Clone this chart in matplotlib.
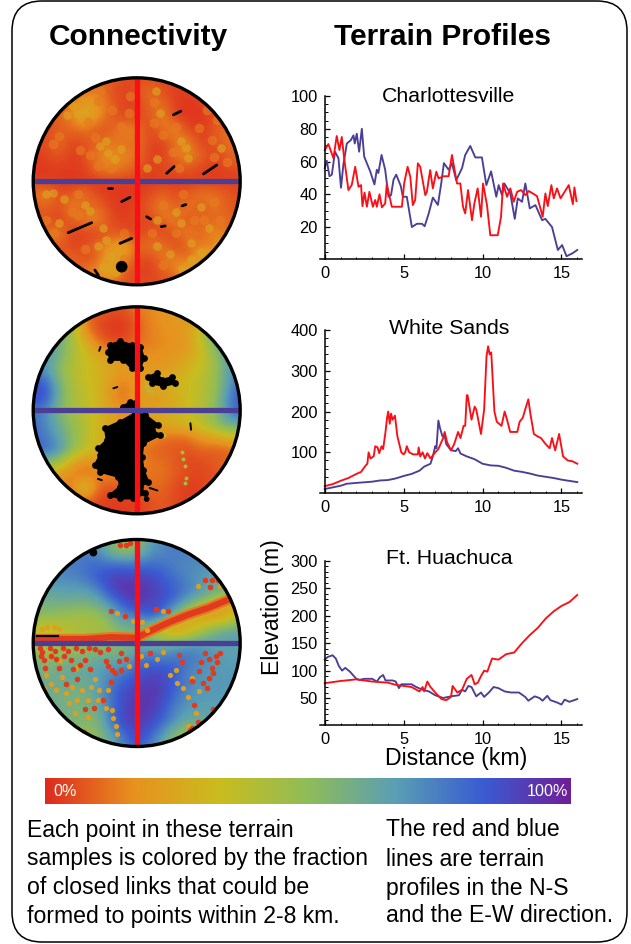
import numpy as np
import matplotlib
matplotlib.use("Agg")
import matplotlib.pyplot as plt
from matplotlib.colors import LinearSegmentedColormap
from matplotlib.patches import Circle, FancyBboxPatch, Polygon
from matplotlib.ticker import MultipleLocator

plt.rcParams["font.family"] = ["Liberation Sans", "DejaVu Sans"]

W, H = 631, 944

# -------------------------------
# TERRAIN PROFILES (km, m)
# -------------------------------

cville_red_x = [0, .23, .55, .76, .93, 1.08, 1.23, 1.5, 1.71, 1.93, 2.14, 2.3, 2.39, 2.52, 2.67, 2.83, 3.05, 3.2, 3.3, 3.47, 3.62, 3.83, 3.93, 4.25, 4.89, 5.03, 5.25, 5.42, 5.58, 5.73, 5.9, 6.05, 6.37, 6.47, 6.68, 6.85, 7.07, 7.21, 7.53, 7.85, 8.06, 8.38, 8.59, 8.76, 8.9, 9.08, 9.33, 9.48, 9.69, 9.9, 10.03, 10.28, 10.49, 10.96, 11.17, 11.3, 11.55, 11.76, 11.97, 12.19, 12.44, 12.71, 12.93, 13.45, 13.81, 13.98, 14.13, 14.36, 14.51, 14.72, 14.94, 15.46, 15.72, 15.82, 15.95]
cville_red_y = [67, 70.7, 62, 75.6, 67, 75, 62, 42.6, 45.6, 56.8, 44.6, 45.6, 32.8, 41, 32.4, 41.5, 32.4, 36.5, 32.4, 40, 32, 34.4, 46, 32.4, 32.4, 46.6, 56.8, 50.7, 33.4, 36.5, 58.9, 56.8, 39.5, 41.5, 54.8, 43.6, 53.8, 49.7, 51, 51, 64, 46.6, 46.6, 32.4, 28.3, 42.6, 24.2, 34.4, 43.6, 26.3, 46.6, 33.4, 15, 15, 26.3, 46.6, 38.5, 43.6, 35.4, 41.5, 42.6, 39.5, 42, 38.9, 26.3, 40.5, 32.8, 45.6, 37.5, 43.6, 37.5, 45.6, 34, 44.2, 35.8]
cville_blue_x = [0, .13, .3, .45, .65, .87, 1.03, 1.18, 1.4, 1.65, 1.82, 1.9, 2.03, 2.18, 2.35, 2.5, 2.88, 3.15, 3.3, 3.4, 3.6, 3.83, 4.04, 4.2, 4.36, 4.53, 4.82, 4.95, 5.2, 5.52, 5.84, 6.16, 6.33, 6.58, 6.85, 7.17, 7.38, 7.55, 7.85, 8.06, 8.33, 8.7, 8.9, 9.22, 9.54, 9.96, 10.24, 10.54, 10.87, 11.02, 11.23, 11.38, 11.76, 12.04, 12.23, 12.5, 12.71, 12.99, 13.35, 13.77, 13.98, 14.4, 14.77, 15.04, 15.32, 15.68, 16]
cville_blue_y = [56, 60.5, 51, 52, 66, 62, 44, 58, 71, 73, 76, 71, 77, 66, 80, 63, 54, 46, 55, 53, 64, 55, 38.5, 39.5, 49, 52, 45, 38.5, 38.5, 20, 22, 22, 20.5, 28, 38, 33.5, 46.6, 59, 55, 59, 48.6, 56, 64, 69.5, 62.5, 62.5, 45.6, 54, 38.5, 45.6, 39.5, 46.6, 40.5, 25, 37.5, 35.4, 46.6, 31.4, 33.4, 24.2, 25, 20, 6, 9, 2.2, 3.9, 6]

sands_red_x = [0, .5, 1, 1.5, 2, 2.3, 2.6, 2.7, 2.78, 2.9, 3.1, 3.2, 3.35, 3.45, 3.6, 3.7, 3.85, 3.95, 4.02, 4.12, 4.2, 4.3, 4.45, 4.6, 4.85, 5, 5.1, 5.2, 5.35, 5.6, 5.9, 5.95, 6.05, 6.2, 6.35, 6.5, 6.7, 7, 7.2, 7.5, 7.6, 7.75, 8, 8.2, 8.45, 8.6, 8.8, 8.9, 9, 9.05, 9.3, 9.5, 9.6, 9.9, 10.1, 10.25, 10.35, 10.45, 10.55, 10.75, 10.9, 11.2, 11.4, 11.55, 11.75, 12.2, 12.35, 12.55, 12.7, 12.9, 13.05, 13.25, 13.45, 13.7, 14, 14.25, 14.4, 14.6, 14.85, 15.1, 15.4, 15.7, 16]
sands_red_y = [17, 22, 30, 37, 47, 52, 68, 72, 100, 85, 90, 115, 112, 98, 115, 108, 150, 185, 200, 170, 195, 180, 190, 140, 100, 95, 100, 115, 100, 95, 95, 112, 90, 100, 85, 98, 85, 100, 108, 135, 150, 125, 105, 120, 150, 135, 165, 165, 240, 240, 180, 212, 205, 145, 205, 335, 360, 340, 345, 200, 175, 165, 200, 180, 150, 150, 175, 185, 205, 230, 190, 145, 140, 135, 120, 110, 135, 105, 145, 90, 80, 78, 72]
sands_blue_x = [0, .5, 1, 1.4, 2, 3, 3.5, 4, 4.5, 5, 5.5, 6, 6.3, 6.7, 6.85, 7, 7.08, 7.2, 7.3, 7.45, 7.6, 7.7, 8, 8.3, 8.45, 8.6, 9, 9.5, 10, 10.5, 11, 11.5, 12, 12.5, 13, 13.5, 14, 14.5, 15, 15.5, 16]
sands_blue_y = [10, 14, 18, 23, 25, 28, 31, 32, 36, 42, 47, 55, 65, 72, 90, 115, 110, 178, 160, 140, 140, 120, 105, 103, 110, 97, 90, 83, 72, 68, 67, 62, 55, 52, 48, 43, 40, 37, 33, 30, 27]

huach_red_x = [0, 1, 2, 3, 4, 4.5, 5, 5.5, 6, 6.2, 6.3, 6.5, 6.7, 7, 7.4, 7.7, 8, 8.1, 8.2, 8.4, 8.7, 9, 9.3, 9.5, 9.7, 9.9, 10.1, 10.3, 10.6, 11, 11.5, 12, 12.5, 13, 13.5, 14, 14.5, 15, 15.5, 16]
huach_red_y = [77, 81, 84, 80, 78, 74, 72, 70, 62, 70, 62, 80, 70, 60, 48, 46, 52, 72, 68, 60, 65, 85, 92, 75, 78, 90, 100, 98, 122, 120, 130, 133, 150, 165, 178, 195, 208, 218, 225, 238]
huach_blue_x = [0, .2, .5, .7, .9, 1.1, 1.3, 1.6, 2, 2.2, 2.5, 3, 3.3, 3.5, 3.7, 3.85, 4.3, 4.5, 4.7, 4.85, 5.2, 5.5, 5.8, 6.2, 6.6, 7, 7.5, 8, 8.5, 8.7, 8.9, 9.1, 9.3, 9.6, 9.9, 10.1, 10.4, 10.7, 11, 11.4, 11.8, 12.3, 12.7, 12.9, 13.3, 13.6, 13.8, 14.1, 14.3, 14.7, 15, 15.2, 15.5, 16]
huach_blue_y = [120, 125, 128, 122, 108, 100, 105, 98, 85, 83, 85, 85, 80, 88, 92, 82, 82, 80, 68, 75, 75, 75, 70, 65, 62, 55, 50, 53, 55, 65, 62, 72, 70, 53, 60, 52, 60, 70, 68, 62, 60, 60, 52, 45, 53, 50, 45, 54, 46, 42, 38, 47, 43, 48]

# -------------------------------
# CONNECTIVITY MAPS (percent, rows y=+8..-8 km, columns x=-8..+8 km)
# -------------------------------

cville_map = [
    [6, 6, 6, 6, 8, 8, 10, 5, 5, 6, 5, 6, 6, 8, 8, 8, 8],
    [6, 6, 6, 8, 10, 14, 6, 4, 6, 12, 6, 3, 4, 6, 8, 8, 8],
    [6, 6, 8, 14, 25, 18, 10, 4, 4, 10, 12, 3, 2, 3, 8, 8, 8],
    [6, 6, 10, 14, 28, 18, 8, 5, 6, 6, 16, 4, 2, 2, 5, 8, 8],
    [8, 4, 8, 10, 12, 6, 8, 16, 14, 4, 12, 16, 5, 3, 8, 12, 8],
    [8, 5, 12, 4, 6, 10, 14, 10, 12, 5, 3, 12, 16, 3, 6, 12, 10],
    [3, 4, 8, 3, 5, 14, 16, 16, 12, 4, 3, 12, 16, 10, 4, 8, 12],
    [2, 3, 3, 3, 4, 12, 16, 12, 8, 3, 6, 5, 8, 4, 3, 5, 6],
    [3, 3, 3, 2, 2, 2, 3, 3, 3, 3, 3, 3, 3, 3, 3, 3, 3],
    [12, 16, 6, 8, 14, 4, 3, 2, 3, 5, 10, 6, 8, 14, 12, 8, 6],
    [6, 10, 5, 16, 8, 12, 4, 2, 5, 8, 16, 8, 14, 6, 14, 8, 6],
    [5, 6, 4, 8, 14, 16, 6, 3, 6, 3, 10, 16, 5, 12, 8, 12, 6],
    [6, 12, 16, 3, 4, 3, 8, 6, 3, 8, 4, 6, 16, 8, 18, 12, 6],
    [6, 6, 8, 4, 6, 12, 18, 25, 10, 12, 14, 5, 10, 14, 12, 22, 6],
    [6, 6, 6, 12, 5, 8, 25, 18, 6, 4, 12, 16, 8, 28, 25, 10, 6],
    [6, 6, 6, 6, 14, 18, 30, 8, 4, 3, 8, 12, 32, 18, 6, 6, 6],
    [6, 6, 6, 6, 6, 6, 6, 6, 6, 6, 6, 6, 6, 6, 6, 6, 6],
]
sands_map = [
    [20, 20, 20, 20, 12, 10, 8, 6, 15, 15, 18, 20, 20, 25, 40, 60, 60],
    [60, 60, 60, 50, 12, 6, 3, 3, 8, 15, 18, 20, 22, 8, 70, 70, 70],
    [70, 70, 60, 45, 18, 6, 3, 3, 8, 14, 16, 18, 22, 40, 65, 75, 75],
    [70, 70, 60, 45, 30, 16, 8, 6, 12, 14, 16, 18, 20, 30, 55, 70, 75],
    [72, 68, 58, 42, 34, 28, 22, 20, 20, 18, 18, 20, 25, 32, 45, 64, 72],
    [75, 70, 52, 40, 34, 30, 24, 20, 20, 20, 22, 24, 30, 36, 46, 64, 75],
    [88, 84, 60, 42, 36, 30, 20, 12, 20, 24, 28, 30, 34, 38, 46, 65, 82],
    [88, 86, 60, 44, 38, 30, 20, 10, 22, 20, 20, 26, 32, 38, 48, 70, 86],
    [78, 72, 55, 44, 38, 30, 24, 16, 20, 22, 24, 28, 34, 40, 50, 70, 84],
    [80, 72, 60, 50, 40, 30, 24, 20, 18, 22, 26, 30, 32, 38, 50, 62, 66],
    [80, 76, 65, 52, 40, 30, 24, 20, 18, 18, 12, 10, 12, 20, 24, 30, 35],
    [82, 80, 72, 52, 38, 30, 24, 20, 15, 10, 8, 8, 6, 10, 8, 8, 12],
    [60, 55, 45, 22, 14, 18, 20, 20, 18, 12, 12, 8, 5, 5, 8, 10, 14],
    [40, 26, 18, 14, 12, 14, 14, 14, 12, 12, 12, 8, 5, 5, 5, 10, 18],
    [26, 16, 14, 12, 40, 10, 6, 8, 10, 10, 10, 5, 3, 3, 10, 16, 18],
    [16, 14, 12, 10, 8, 4, 3, 3, 3, 6, 8, 5, 3, 5, 10, 14, 18],
    [12, 12, 12, 12, 8, 4, 3, 3, 3, 6, 8, 6, 5, 8, 10, 14, 14],
]
huach_map = [
    [72, 72, 72, 72, 70, 66, 55, 45, 45, 66, 72, 76, 76, 76, 76, 76, 76],
    [72, 72, 72, 74, 76, 72, 58, 50, 55, 68, 72, 76, 74, 72, 72, 72, 72],
    [70, 72, 74, 76, 78, 80, 80, 80, 78, 80, 78, 74, 72, 72, 72, 72, 72],
    [68, 70, 72, 72, 76, 84, 90, 92, 90, 90, 84, 78, 72, 68, 62, 60, 66],
    [62, 64, 66, 66, 66, 72, 88, 94, 96, 92, 88, 82, 76, 68, 62, 58, 60],
    [58, 58, 58, 58, 56, 60, 70, 84, 92, 90, 86, 76, 60, 48, 35, 24, 20],
    [52, 50, 48, 45, 44, 46, 56, 72, 72, 84, 76, 50, 30, 18, 14, 22, 40],
    [36, 28, 34, 40, 42, 42, 48, 55, 55, 45, 20, 12, 22, 40, 55, 62, 64],
    [40, 36, 40, 44, 46, 48, 50, 55, 55, 58, 58, 60, 64, 66, 66, 66, 66],
    [55, 50, 52, 55, 55, 60, 58, 58, 72, 76, 72, 76, 78, 74, 68, 66, 66],
    [62, 55, 60, 62, 62, 66, 70, 72, 80, 86, 86, 82, 74, 70, 68, 68, 68],
    [62, 60, 62, 62, 60, 66, 74, 82, 88, 92, 90, 82, 74, 68, 68, 68, 68],
    [62, 60, 58, 56, 58, 66, 78, 88, 92, 94, 90, 80, 70, 68, 68, 68, 68],
    [60, 60, 60, 56, 56, 60, 76, 88, 94, 94, 86, 74, 68, 66, 66, 66, 66],
    [60, 60, 60, 55, 55, 55, 78, 90, 92, 90, 82, 70, 62, 62, 66, 66, 66],
    [60, 60, 60, 55, 48, 52, 66, 80, 90, 84, 70, 55, 46, 48, 60, 66, 66],
    [60, 60, 60, 55, 48, 48, 60, 74, 84, 76, 60, 46, 42, 48, 60, 66, 66],
]

# yellow and orange mottling on the Charlottesville map (km)
cville_yellow_dots = [(-4.9, 5.8), (-4.5, 5.2), (-5.4, 5.1), (-2.4, 3.1), (-2.8, 2.7), (-2.2, 2.2), (-1.7, 1.7), (-1.2, 2.5), (1.6, 1.7), (.8, 1), (1.5, 7), (1.8, 5.3), (3.4, 3.1), (3.8, 2.6), (4, 1.8), (6.5, 2.6), (-7, -1), (-6.5, -.9), (-5.6, -1.4), (-4, -1.8), (-3.6, -2.3), (-6, -3.2), (-2.6, -3.6), (-2.4, -4.5), (-3, -5), (-2, -5.8), (-2.6, -6.6), (-1.6, -7), (1.6, -3), (3, -2.4), (3.4, -3.2), (5, -2), (5.6, -3.6), (4.2, -4.8), (5, -5.5), (4.2, -6), (5.2, -6.2), (6.2, -5), (2.6, -5.6), (3.5, -6.8), (1.6, -5)]
cville_orange_dots = [(-3.8, 4.6), (-6, 3.5), (-6.5, 2.9), (-3.2, 3.4), (-3.6, 2), (-4.4, 2.4), (-3, 1.2), (-2, 1), (-.7, 3.6), (-1.2, 4.3), (-.6, 5.3), (-1.9, 5.5), (-3, 6.2), (-2.8, 7), (-3.5, 7.2), (-.5, 6.6), (1.3, 6.1), (1.3, 4.5), (2, 3.6), (3, 4.2), (2.8, 2.3), (3.3, 1), (4.8, 4.1), (5.8, 3.2), (6, 1.9), (7, 1.5), (6.2, 4.7), (5.4, 5.5), (-4.5, -1), (-4.5, -2.6), (-5, -2.4), (-7, -3), (-6.4, -4), (-1, -4), (-4, -5.2), (-1, -6), (1.2, -4), (2, -1.8), (3.6, -1), (4.4, -3), (6, -1.6), (6.4, -3), (2, -6.5), (3, -4), (5.2, -3)]

# black blobs on the maps (km)
sands_blob_a = [(-2.06, 5.06), (-1.29, 5.32), (-.39, 5.06), (.26, 4.93), (.57, 4.03), (.26, 3.25), (-.39, 3.25), (-1.03, 3.9), (-2.06, 3.9), (-2.19, 4.54)]
sands_blob_b = [(.9, 2.6), (1.55, 2.86), (1.94, 2.35), (2.71, 2.55), (2.97, 2.09), (2.06, 1.88), (1.16, 2.09)]
sands_blob_c = [(-1.03, .28), (-.52, .67), (-.13, .54), (-.13, .15), (-1.03, .15)]
sands_blob_d = [(-.13, -.23), (.65, -.36), (1.68, -1.14), (1.16, -1.52), (1.81, -1.91), (.52, -2.55), (.39, -3.59), (.52, -4.62), (.9, -5.52), (.26, -5.91), (.65, -6.43), (-.26, -6.81), (-1.29, -6.81), (-2.06, -6.55), (-1.29, -5.91), (-1.42, -5.14), (-2.84, -4.75), (-3.23, -4.23), (-2.84, -3.46), (-2.97, -2.94), (-2.32, -2.3), (-2.45, -1.39), (-1.29, -.88)]
sands_blobs = [sands_blob_a, sands_blob_b, sands_blob_c, sands_blob_d]
sands_strokes = [
    [(-2.9, 4.6), (-2.8, 4.9)],
    [(-1.8, 1.7), (-1.5, 1.8)],
    [(4.15, -1), (4.2, -1.5)],
    [(-3, -5.3), (-2.7, -5.4)],
    [(1, -6), (1.6, -6.2)],
    [(-2, -6.7), (-1, -6.5)],
]
sands_green_dots = [(.7, 1.9), (.9, 1.6), (1.3, -1.8), (2.1, -1.9), (3.5, -3.2), (3.6, -3.8), (3.7, -4.3), (3.8, -5.2), (3.7, -5.6), (1.2, 1.4)]
sands_spot = (.77, -6.86)

cville_strokes = [
    [(-5.29, -3.97), (-3.48, -3.2)],
    [(-1.16, -1.57), (-.52, -1.24)],
    [(2.32, .62), (2.89, 1.14)],
    [(5.16, .57), (6.19, 1.26)],
    [(2.84, 5.14), (3.41, 5.42)],
    [(-3.23, -6.86), (-2.97, -7.25)],
    [(-1.29, -4.8), (-.39, -4.41)],
    [(.77, -2.74), (1.08, -2.92)],
    [(1.9, -3.5), (2.2, -3.45)],
    [(3.5, -1.9), (3.8, -1.8)],
    [(-2.2, -.5), (-1.9, -.5)],
]
cville_spot = (-1.16, -6.6)
huach_stroke = [(-7.74, .57), (-6.06, .57)]
huach_spot = (-3.35, 6.99)

# red and orange ridge on the Huachuca map (km)
ridge_x = [-8, -6, -4, -2, 0, 1, 2.5, 4, 5.5, 7.2]
ridge_y = [.3, .3, .3, .45, .4, .9, 1.6, 2.2, 2.7, 3.4]

huach_red_dots = [(-7.3, -.7), (-7.2, -1.3), (-7.1, -1.9), (-6.3, -.6), (-6.2, -1.2), (-6, -1.9), (-5.3, -.6), (-5.1, -1.3), (-4.9, -2), (-4.6, -2.8), (-4.2, -.6), (-4, -1.3), (-3.6, -2), (-2.8, -.7), (-2.4, -1.4), (-1.9, -2.1), (-1.4, -1.4), (-1.7, -2.3), (-2, -3), (-2.6, -4.4), (-3.3, -5), (-4, -5.1), (-4.1, -6.9), (1, -.8), (3.3, -.9), (3.5, -1.5), (5.3, -.8), (5, -1.5), (4.8, -2.2), (6.4, -.8), (6.2, -1.5), (5.9, -2.3), (5.6, -2.7), (5.4, -3.5), (4.3, -2.9), (4.4, -4.8), (4.7, -6.1), (5.9, -5.1), (5.8, -5.5), (4.1, -6.7), (4.3, -6.6), (5.3, 4.9), (5.8, 4.9), (6.3, 4.9), (5.7, 4.3), (-2, 2.5), (-.9, 2.1), (1.5, 2.6), (2.4, 2.5), (-1.3, 7.6), (-.8, 7.6), (-.5, 7.7), (-7.5, -.4), (-6.7, -.4), (-5.7, -.4), (-4.7, -.4), (-3.7, -.4), (-3.2, -.5), (-2.2, -.5), (-1.2, -.8), (-7.4, -1), (-6.6, -1), (-5.6, -1), (-4.4, -1.7), (-2.2, -1.8), (-1.2, -2.1), (5.6, -1.2), (5.8, -1.9), (6.1, -1), (5.1, -3.1), (-5.5, -3.2), (-.8, -1.2)]
huach_yellow_dots = [(-7, -2.5), (-5.8, -2.6), (-5.5, -3.9), (-4.2, -3.6), (-3.8, -4.4), (-3.2, -2.8), (-2.9, -3.6), (-2.2, -3.6), (1.6, -1.2), (2, -.7), (.7, -1.7), (3, -2.1), (2.6, -2.5), (4.3, -2.7), (4.8, -3.7), (4, -4.2), (4.6, -5.4), (4, -6.4), (4.7, 4.4), (6.4, 4.4), (-1.5, 2.3), (-.3, 1.7), (.4, 1.6), (.8, 1), (2, 2.5), (-7.3, 1.1), (-6.9, 1.2), (-6.4, 1.2), (-6, 1.1), (-1.6, -6.4), (-1.9, -5.2), (-4.6, -4.4), (-5.2, -4.6), (-6.6, -3.2), (-6.2, -3.6), (-5, -3.4), (-4.7, -1.9), (-3.5, -3.4), (-3, -4.4), (-2.4, -5), (-1.8, -5.8), (-1.5, -7), (-4.8, -5.4), (-3.8, -5.7), (-.6, -1.8), (.3, -1), (-7.2, -3.5), (-6.8, -.9), (-5.9, -1.4), (3.1, -3.1), (3.6, -3.5)]

# -------------------------------
# COLOURS
# -------------------------------

red_line = "#fb0f16"
blue_line = "#4a3f94"
scale_colors = ["#de2a1e", "#e8911f", "#c9bd1f", "#90bc58", "#5a9fb4", "#3a5cd2", "#6f1f98"]
conn_cmap = LinearSegmentedColormap.from_list("connectivity", scale_colors)


def box(ax_left, ax_top, ax_right, ax_bottom):
    # pixel box of the picture -> figure fractions
    return [ax_left / W, 1 - ax_bottom / H, (ax_right - ax_left) / W, (ax_bottom - ax_top) / H]


fig = plt.figure(figsize=(W / 100, H / 100), dpi=100)

# -------------------------------
# PAGE: frame and text, in pixels
# -------------------------------

page = fig.add_axes([0, 0, 1, 1])
page.set_xlim(0, W)
page.set_ylim(H, 0)
page.axis("off")

page.add_patch(FancyBboxPatch((12, 1), 615, 941, boxstyle="round,pad=0,rounding_size=30",
                              fc="white", ec="black", lw=1.1, clip_on=False))

page.text(138, 37, "Connectivity", fontsize=21.5, fontweight="bold", ha="center", va="center")
page.text(443, 37, "Terrain Profiles", fontsize=21.5, fontweight="bold", ha="center", va="center")

left_lines = ["Each point in these terrain", "samples is colored by the fraction",
              "of closed links that could be", "formed to points within 2-8 km."]
right_lines = ["The red and blue", "lines are terrain", "profiles in the N-S", "and the E-W direction."]
line_rows = [830, 859, 888, 916]
for text, row in zip(left_lines, line_rows):
    page.text(27, row, text, fontsize=16.6, ha="left", va="center")
for text, row in zip(right_lines, line_rows):
    page.text(386, row, text, fontsize=16.6, ha="left", va="center")

page.text(273, 607, "Elevation (m)", fontsize=16.7, rotation=90, ha="center", va="center")
page.text(456, 758, "Distance (km)", fontsize=16.7, ha="center", va="center")

# -------------------------------
# COLOUR SCALE
# -------------------------------

scale_ax = fig.add_axes(box(45, 778, 571, 804))
scale_ax.imshow(np.linspace(0, 1, 256)[None, :], aspect="auto", cmap=conn_cmap, extent=[0, 100, 0, 1])
scale_ax.axis("off")
scale_ax.text(1.6, .5, "0%", color="white", fontsize=11.6, ha="left", va="center")
scale_ax.text(99.5, .5, "100%", color="white", fontsize=11.6, ha="right", va="center")

# -------------------------------
# MAPS
# -------------------------------


def draw_map(cy, grid, blue_on_top):
    R = 103.5
    ax = fig.add_axes(box(136.7 - R * 8.3 / 8, cy - R * 8.3 / 8, 136.7 + R * 8.3 / 8, cy + R * 8.3 / 8))
    ax.set_xlim(-8.3, 8.3)
    ax.set_ylim(-8.3, 8.3)
    ax.axis("off")
    im = ax.imshow(grid, cmap=conn_cmap, vmin=0, vmax=100, extent=[-8.5, 8.5, -8.5, 8.5],
                   interpolation="bicubic", zorder=1)
    disc = Circle((0, 0), 8, transform=ax.transData)
    im.set_clip_path(disc)
    ax.plot([0, 0], [-8, 8], color=red_line, lw=3.8, solid_capstyle="butt", zorder=6 if not blue_on_top else 4)
    ax.plot([-8, 8], [0, 0], color=blue_line, lw=3.8, solid_capstyle="butt", zorder=5)
    ax.add_patch(Circle((0, 0), 8, fc="none", ec="black", lw=2.4, zorder=7))
    return ax, disc


def add_dots(ax, disc, pts, value, size, alpha=1):
    dots = ax.scatter(*zip(*pts), s=size, color=conn_cmap(value), linewidths=0, alpha=alpha, zorder=2)
    dots.set_clip_path(disc)


ax_a, disc_a = draw_map(181.3, cville_map, False)
add_dots(ax_a, disc_a, cville_orange_dots, .13, 48, .65)
add_dots(ax_a, disc_a, cville_yellow_dots, .24, 38, .65)
for stroke in cville_strokes:
    xs, ys = zip(*stroke)
    ax_a.plot(xs, ys, color="black", lw=2, solid_capstyle="round", zorder=3)
ax_a.add_patch(Circle(cville_spot, .45, fc="black", ec="none", zorder=3))

ax_b, disc_b = draw_map(410.3, sands_map, True)
add_dots(ax_b, disc_b, sands_green_dots, .42, 8)
for blob in sands_blobs:
    ax_b.add_patch(Polygon(blob, closed=True, fc="black", ec="black", lw=1.5, joinstyle="round", zorder=3))
    ax_b.scatter(*zip(*blob), s=24, color="black", linewidths=0, zorder=3)
for stroke in sands_strokes:
    xs, ys = zip(*stroke)
    ax_b.plot(xs, ys, color="black", lw=1.4, solid_capstyle="round", zorder=3)
ax_b.add_patch(Circle(sands_spot, .22, fc="black", ec="none", zorder=3))

ax_c, disc_c = draw_map(643, huach_map, False)
line, = ax_c.plot(ridge_x, ridge_y, color=conn_cmap(.13), lw=7.5, zorder=2, solid_capstyle="butt")
line.set_clip_path(disc_c)
line, = ax_c.plot(ridge_x, ridge_y, color=conn_cmap(.03), lw=4.5, zorder=2, solid_capstyle="butt")
line.set_clip_path(disc_c)
add_dots(ax_c, disc_c, huach_yellow_dots, .22, 14)
add_dots(ax_c, disc_c, huach_red_dots, .03, 16)
xs, ys = zip(*huach_stroke)
ax_c.plot(xs, ys, color="black", lw=1.6, zorder=3)
ax_c.add_patch(Circle(huach_spot, .3, fc="black", ec="none", zorder=3))

# -------------------------------
# PROFILES
# -------------------------------

profiles = [
    (96, 259, .5, 100, [20, 40, 60, 80, 100], 5, cville_red_x, cville_red_y, cville_blue_x, cville_blue_y, "Charlottesville", 96),
    (330, 492.7, 1, 400, [100, 200, 300, 400], 20, sands_red_x, sands_red_y, sands_blue_x, sands_blue_y, "White Sands", 329),
    (561, 725, .7, 300, [50, 100, 150, 200, 250, 300], 10, huach_red_x, huach_red_y, huach_blue_x, huach_blue_y, "Ft. Huachuca", 559),
]

for top, bottom, ymin, ymax, yticks, yminor, rx, ry, bx, by, title, title_y in profiles:
    ax = fig.add_axes(box(320, top, 582, bottom))
    ax.patch.set_alpha(0)
    ax.set_xlim(-.3, 16.3)
    ax.set_ylim(ymin, ymax)
    ax.plot(bx, by, color=blue_line, lw=1.35, clip_on=False)
    ax.plot(rx, ry, color=red_line, lw=1.35, clip_on=False)
    ax.spines["top"].set_visible(False)
    ax.spines["right"].set_visible(False)
    ax.spines["left"].set_position(("data", 0))
    ax.spines["left"].set_linewidth(1.1)
    ax.spines["bottom"].set_linewidth(1.1)
    ax.set_xticks([0, 5, 10, 15])
    ax.xaxis.set_minor_locator(MultipleLocator(1))
    ax.set_yticks(yticks)
    ax.yaxis.set_minor_locator(MultipleLocator(yminor))
    ax.tick_params(axis="both", which="major", direction="in", length=3.5, width=.9, labelsize=11.8, pad=5)
    ax.tick_params(axis="both", which="minor", direction="in", length=1.8, width=.7)
    page.text(449, title_y, title, fontsize=15.3, ha="center", va="center")

fig.savefig("out.png", dpi=100)
